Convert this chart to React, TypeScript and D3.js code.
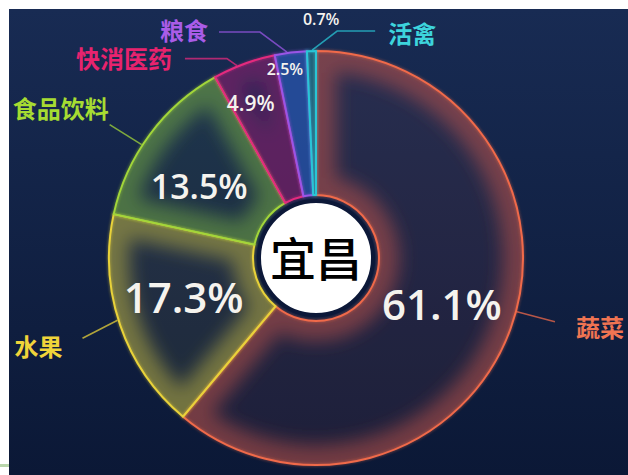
import React from 'react';
import * as d3 from 'd3';

// ---- data ----
const categories = ['蔬菜', '水果', '食品饮料', '快消医药', '粮食', '活禽'];
const values = [61.1, 17.3, 13.5, 4.9, 2.5, 0.7];
const percentLabels = ['61.1%', '17.3%', '13.5%', '4.9%', '2.5%', '0.7%'];
const centerName = '宜昌';

// ---- styles ----
const strokeColors = ['#f06a4a', '#e8d23a', '#a2d63a', '#e42a7e', '#9a55e6', '#28c6d6'];
const glowColors = ['#c8564c', '#b8ae44', '#72a844', '#8e1c6e', '#2a5cbc', '#268494'];
const glowOpacity = [0.5, 0.55, 0.55, 0.55, 0.62, 0.6];
const labelColors = ['#f07452', '#f0d43a', '#a6dc32', '#e8236e', '#a95ce8', '#3dd4dc'];
const pctFontSizes = [42, 42, 34, 21, 16, 16];
const pctRadius = [134, 138, 137, 168, 192, 239];
const pctAngleShift = [0, 2.5, -5, -2.5, -2.3, 2.5];
const lineAngleShift = [-5, 1.5, -3.5, -2, -1, 0.2];
const lineLeg1 = [[38, 10], [-35, 18], [-32, -20], [-10, -7], [-27, -20], [25, -19]];
const lineLeg2 = [0, 0, 0, -42, -41, 38];
const textOffset = [[21, 5], [-20, 7], [-1, -17], [-13, -1.5], [-11, -3], [13, 1]];

const W = 628;
const H = 475;
const cx = 316;
const cy = 258;
const outerR = 207;
const innerR = 63;
const holeR = 57;

export default function App() {
  const pie = d3.pie<number>().sort(null).value((d) => d).startAngle(0).endAngle(Math.PI * 2);
  const arcs = pie(values);
  const arcGen = d3.arc<d3.PieArcDatum<number>>().innerRadius(innerR).outerRadius(outerR);
  const rad = (deg: number) => (deg * Math.PI) / 180;
  const pt = (a: number, r: number) => [r * Math.sin(a), -r * Math.cos(a)];

  return (
    <svg width={W} height={H} style={{ position: 'absolute', left: 0, top: 0 }}>
      <defs>
        <linearGradient id="bg" x1="0" y1="0" x2="0" y2="1">
          <stop offset="0" stopColor="#182b53" />
          <stop offset="1" stopColor="#0b1836" />
        </linearGradient>
        <filter id="blur" filterUnits="userSpaceOnUse" x={-300} y={-300} width={600} height={600}>
          <feGaussianBlur stdDeviation="9" />
        </filter>
        <filter id="soft" filterUnits="userSpaceOnUse" x={-300} y={-300} width={600} height={600}>
          <feGaussianBlur stdDeviation="1.2" />
        </filter>
        {arcs.map((a, i) => (
          <clipPath id={`clip${i}`} key={i}>
            <path d={arcGen(a) || ''} />
          </clipPath>
        ))}
      </defs>
      <rect x={0} y={0} width={W} height={H} fill="#ffffff" />
      <rect x={9} y={9} width={W - 9} height={H - 9} fill="url(#bg)" />
      <rect x={0} y={464} width={9} height={3} fill="#b9d6ab" />

      <g transform={`translate(${cx},${cy})`}>
        {arcs.map((a, i) => {
          const d = arcGen(a) || '';
          return (
            <g key={i}>
              <path d={d} fill={glowColors[i]} fillOpacity={0.1} />
              <g clipPath={`url(#clip${i})`}>
                <path d={d} fill="none" stroke={glowColors[i]} strokeWidth={40} strokeOpacity={glowOpacity[i]} filter="url(#blur)" />
              </g>
              <path d={d} fill="none" stroke={strokeColors[i]} strokeWidth={4} strokeOpacity={0.3} filter="url(#soft)" />
              <path d={d} fill="none" stroke={strokeColors[i]} strokeWidth={2} strokeLinejoin="round" />
            </g>
          );
        })}

        {/* label lines and category labels */}
        {arcs.map((a, i) => {
          const mid = (a.startAngle + a.endAngle) / 2 + rad(lineAngleShift[i]);
          const p0 = pt(mid, outerR + 1);
          const p1 = [p0[0] + lineLeg1[i][0], p0[1] + lineLeg1[i][1]];
          const p2 = [p1[0] + lineLeg2[i], p1[1]];
          const right = textOffset[i][0] > 0;
          return (
            <g key={`l${i}`}>
              <polyline
                points={[p0, p1, p2].map((p) => p.join(',')).join(' ')}
                fill="none"
                stroke={strokeColors[i]}
                strokeOpacity={0.75}
                strokeWidth={1.6}
              />
              <text
                x={p2[0] + textOffset[i][0]}
                y={p2[1] + textOffset[i][1]}
                textAnchor={right ? 'start' : 'end'}
                dominantBaseline="central"
                fill={labelColors[i]}
                fontSize={24}
                fontWeight={700}
                fontFamily="'Noto Sans CJK SC', sans-serif"
              >
                {categories[i]}
              </text>
            </g>
          );
        })}

        {/* percentage labels */}
        {arcs.map((a, i) => {
          const mid = (a.startAngle + a.endAngle) / 2 + rad(pctAngleShift[i]);
          const p = pt(mid, pctRadius[i]);
          return (
            <text
              key={`p${i}`}
              x={p[0]}
              y={p[1]}
              textAnchor="middle"
              dominantBaseline="central"
              fill="#f5f3ee"
              fontSize={pctFontSizes[i]}
              fontWeight={600}
              fontFamily="'Open Sans', 'Noto Sans', sans-serif"
            >
              {percentLabels[i]}
            </text>
          );
        })}

        {/* center */}
        <circle r={holeR} fill="#ffffff" stroke="#0c1838" strokeWidth={4} />
        <text
          x={0}
          y={-2}
          textAnchor="middle"
          dominantBaseline="central"
          fontSize={46}
          fontWeight={500}
          fill="#000000"
          fontFamily="'Noto Sans CJK SC', sans-serif"
        >
          {centerName}
        </text>
      </g>
    </svg>
  );
}
